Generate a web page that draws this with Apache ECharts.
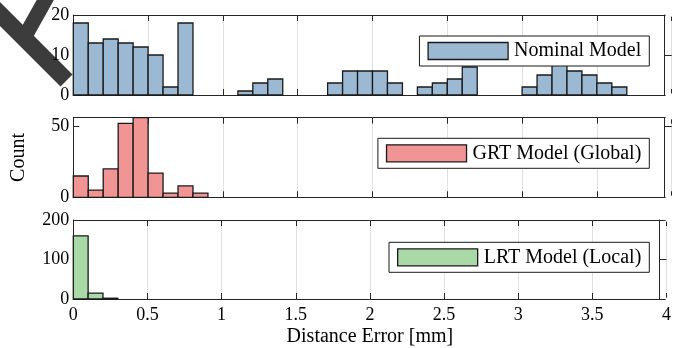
<!DOCTYPE html>
<html>
<head>
<meta charset="utf-8">
<script src="https://cdn.jsdelivr.net/npm/echarts@6/dist/echarts.min.js"></script>
<style>
html,body{margin:0;padding:0;background:#fff;}
#chart{width:674px;height:348px;}
</style>
</head>
<body>
<div id="chart"></div>
<script>
// ---- data ----
const binWidth = 0.1;
const nominalCounts = [18,13,14,13,12,10,2,18,0,0,0,1,3,4,0,0,0,3,6,6,6,3,0,2,3,4,7,0,0,0,2,5,8,6,5,3,2];
const grtCounts = [15,5,20,52,56,17,3,8,3];
const lrtCounts = [160,15,2];
const seriesNames = ['Nominal Model','GRT Model (Global)','LRT Model (Local)'];
const xTicks = [0,0.5,1,1.5,2,2.5,3,3.5,4];
const yMax = [20,56,200];
const yInterval = [10,50,100];
const colors = ['#9bb9d3','#f09494','#a9d9a6'];

const FONT = 'Liberation Serif';
const AX = '#262626';

function toBins(counts){
  return counts.map((c,i)=>[i*binWidth,(i+1)*binWidth,c]);
}
const allCounts = [nominalCounts, grtCounts, lrtCounts];

const gridTops = [15,117.7,220];
const gridHeights = [80,79.6,79.3];
const grids = gridTops.map((t,i)=>({left:73.3, top:t, width:598.4, height:gridHeights[i]}));

const xAxes = [], yAxes = [];
for (let i=0;i<3;i++){
  xAxes.push({
    gridIndex:i, type:'value', min:xTicks[0], max:xTicks[xTicks.length-1], interval:0.5, position:'bottom',
    axisLine:{show:true,onZero:false,lineStyle:{color:AX,width:1}},
    axisTick:{show:true,inside:true,length:6,lineStyle:{color:AX}},
    splitLine:{show:true,lineStyle:{color:'#e0e0e0',width:1}},
    axisLabel:{show:i===2,margin:7,color:'#000',fontFamily:FONT,fontSize:18,
      formatter:v=>String(v)},
    name: i===2 ? 'Distance Error [mm]' : '',
    nameLocation:'middle', nameGap:28,
    nameTextStyle:{fontFamily:FONT,fontSize:20,color:'#000'}
  });
  xAxes.push({
    gridIndex:i, type:'value', min:xTicks[0], max:xTicks[xTicks.length-1], interval:0.5, position:'top',
    axisLine:{show:true,onZero:false,lineStyle:{color:AX,width:1}},
    axisTick:{show:true,inside:true,length:6,lineStyle:{color:AX}},
    splitLine:{show:false}, axisLabel:{show:false}
  });
  yAxes.push({
    gridIndex:i, type:'value', min:0, max:yMax[i], interval:yInterval[i], position:'left',
    axisLine:{show:true,onZero:false,lineStyle:{color:AX,width:1}},
    axisTick:{show:true,inside:true,length:6,lineStyle:{color:AX}},
    splitLine:{show:false},
    axisLabel:{show:true,margin:4,color:'#000',fontFamily:FONT,fontSize:18,
      showMaxLabel: i!==1},
    name: i===1 ? 'Count' : '',
    nameLocation:'middle', nameGap:45,
    nameTextStyle:{fontFamily:FONT,fontSize:20,color:'#000'}
  });
  yAxes.push({
    gridIndex:i, type:'value', min:0, max:yMax[i], interval:yInterval[i], position:'right', offset:-7,
    axisLine:{show:true,onZero:false,lineStyle:{color:AX,width:1}},
    axisTick:{show:true,inside:false,length:7,lineStyle:{color:AX}},
    splitLine:{show:false}, axisLabel:{show:false}
  });
}

const series = allCounts.map((counts,i)=>({
  name: seriesNames[i],
  type:'custom',
  xAxisIndex:i*2, yAxisIndex:i*2,
  itemStyle:{color:colors[i],borderColor:'#1a1a1a',borderWidth:1.3},
  data: toBins(counts),
  encode:{x:[0,1],y:2},
  renderItem:function(params,api){
    const y = api.value(2);
    if (!y) return null;
    const p0 = api.coord([api.value(0), y]);
    const p1 = api.coord([api.value(1), 0]);
    return {type:'rect',
      shape:{x:p0[0],y:p0[1],width:p1[0]-p0[0],height:p1[1]-p0[1]},
      style:{fill:colors[i],stroke:'#1a1a1a',lineWidth:1.3}};
  }
}));

const legendTops = [36,138.3,242.3];
const legends = seriesNames.map((n,i)=>({
  data:[{name:n,icon:'rect',itemStyle:{color:colors[i],borderColor:'#1a1a1a',borderWidth:1.3}}],
  right:24.7, top:legendTops[i], orient:'horizontal',
  itemWidth:80, itemHeight:17, itemGap:5,
  padding:[5,8,5,8],
  backgroundColor:'#fff', borderColor:'#1a1a1a', borderWidth:1, borderRadius:0,
  selectedMode:false,
  textStyle:{fontFamily:FONT,fontSize:20,color:'#000',lineHeight:20,padding:[0,0,0,1]}
}));

// white covers that trim the top/bottom box lines back to the right box edge
const covers = [];
gridTops.forEach((t,i)=>{
  [t, t+gridHeights[i]].forEach(yy=>{
    covers.push({type:'rect', z:100, silent:true,
      shape:{x:665.6, y:yy-1.6, width:9, height:3.2},
      style:{fill:'#fff'}});
  });
});

const chart = echarts.init(document.getElementById('chart'), null, {renderer:'canvas'});
chart.setOption({
  animation:false,
  backgroundColor:'#fff',
  grid:grids, xAxis:xAxes, yAxis:yAxes, series:series, legend:legends,
  graphic:[
    {type:'polyline', z:-1, silent:true, shape:{points:[[-14,0],[66.5,80.5]]},
      style:{stroke:'#3c3c3c',lineWidth:17,lineCap:'butt',fill:null}},
    {type:'polyline', z:-1, silent:true, shape:{points:[[24,38],[52,-12]]},
      style:{stroke:'#3c3c3c',lineWidth:15,lineCap:'butt',fill:null}}
  ].concat(covers)
});
</script>
</body>
</html>
